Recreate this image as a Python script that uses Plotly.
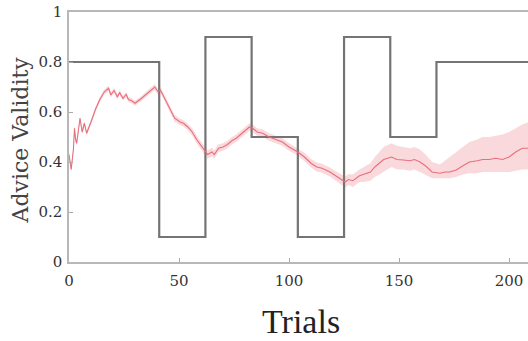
import plotly.graph_objects as go

# Advice validity schedule (step function)
step_trials = [0, 41, 41, 62, 62, 83, 83, 104, 104, 125, 125, 146, 146, 167, 167, 210]
step_values = [0.8, 0.8, 0.1, 0.1, 0.9, 0.9, 0.5, 0.5, 0.1, 0.1, 0.9, 0.9, 0.5, 0.5, 0.8, 0.8]

# Estimated advice validity (mean)
est_trials = [0, 1, 2, 2.5, 3, 3.5, 5, 6, 7, 8, 10, 12, 14, 16, 18, 19, 20.5, 22, 23, 24.5,
              26, 27, 28.5, 30, 33, 36, 39, 40.5, 41.5, 42, 44, 46, 48, 50.5, 52, 54, 56, 58,
              60, 62, 63, 65, 66, 68, 70, 72, 74, 76, 78, 80, 82, 83.5, 85.5, 88, 91, 94, 97,
              100, 104, 107, 110, 112.6, 115, 118.6, 121, 123.5, 125.5, 127, 129, 132, 134,
              137, 139, 141, 143, 146.6, 149, 152, 155, 157, 159.5, 162, 165, 168.6, 171, 173,
              176, 179, 182, 185.5, 188, 191, 194, 197, 200, 203, 206, 209]
est_mean = [0.43, 0.37, 0.45, 0.535, 0.49, 0.475, 0.575, 0.52, 0.555, 0.515, 0.56, 0.61, 0.65,
            0.68, 0.695, 0.668, 0.686, 0.66, 0.678, 0.655, 0.67, 0.65, 0.645, 0.635, 0.655,
            0.678, 0.70, 0.68, 0.688, 0.68, 0.645, 0.61, 0.575, 0.56, 0.555, 0.54, 0.52, 0.49,
            0.465, 0.44, 0.43, 0.44, 0.43, 0.455, 0.46, 0.47, 0.485, 0.495, 0.51, 0.525, 0.54,
            0.535, 0.52, 0.515, 0.50, 0.49, 0.48, 0.46, 0.44, 0.42, 0.395, 0.38, 0.375, 0.36,
            0.345, 0.33, 0.32, 0.33, 0.325, 0.345, 0.35, 0.36, 0.38, 0.395, 0.41, 0.42, 0.41,
            0.408, 0.405, 0.41, 0.40, 0.385, 0.36, 0.355, 0.36, 0.36, 0.368, 0.385, 0.40,
            0.405, 0.41, 0.41, 0.415, 0.41, 0.42, 0.44, 0.455, 0.455]
est_upper = [0.44, 0.38, 0.46, 0.545, 0.50, 0.485, 0.585, 0.53, 0.565, 0.525, 0.57, 0.62, 0.66,
             0.69, 0.705, 0.678, 0.696, 0.67, 0.688, 0.665, 0.68, 0.66, 0.655, 0.645, 0.665,
             0.688, 0.712, 0.692, 0.70, 0.692, 0.657, 0.622, 0.588, 0.573, 0.568, 0.553, 0.535,
             0.505, 0.48, 0.457, 0.447, 0.457, 0.447, 0.47, 0.475, 0.485, 0.5, 0.51, 0.525,
             0.54, 0.555, 0.55, 0.535, 0.53, 0.515, 0.505, 0.495, 0.475, 0.455, 0.437, 0.412,
             0.398, 0.393, 0.378, 0.364, 0.35, 0.342, 0.352, 0.35, 0.37, 0.38, 0.395, 0.42,
             0.44, 0.46, 0.475, 0.465, 0.46, 0.455, 0.46, 0.45, 0.43, 0.4, 0.39, 0.405, 0.42,
             0.44, 0.46, 0.48, 0.49, 0.5, 0.5, 0.505, 0.51, 0.52, 0.535, 0.55, 0.56]
est_lower = [0.42, 0.36, 0.44, 0.525, 0.48, 0.465, 0.565, 0.51, 0.545, 0.505, 0.55, 0.60, 0.64,
             0.67, 0.685, 0.658, 0.676, 0.65, 0.668, 0.645, 0.66, 0.64, 0.635, 0.625, 0.645,
             0.668, 0.688, 0.668, 0.676, 0.668, 0.633, 0.598, 0.562, 0.547, 0.542, 0.527, 0.505,
             0.475, 0.45, 0.423, 0.413, 0.423, 0.413, 0.44, 0.445, 0.455, 0.47, 0.48, 0.495,
             0.51, 0.525, 0.52, 0.505, 0.5, 0.485, 0.475, 0.465, 0.445, 0.425, 0.403, 0.378,
             0.362, 0.357, 0.342, 0.326, 0.31, 0.298, 0.308, 0.3, 0.32, 0.32, 0.325, 0.34,
             0.35, 0.36, 0.38, 0.37, 0.37, 0.365, 0.37, 0.36, 0.35, 0.335, 0.335, 0.335, 0.335,
             0.34, 0.35, 0.355, 0.355, 0.36, 0.36, 0.36, 0.36, 0.36, 0.365, 0.37, 0.37]

x_ticks = [0, 50, 100, 150, 200]
y_ticks = [0, 0.2, 0.4, 0.6, 0.8, 1]
y_tick_text = ["0", "0.2", "0.4", "0.6", "0.8", "1"]
x_title = "Trials"
y_title = "Advice Validity"

fig = go.Figure()
fig.add_trace(go.Scatter(x=est_trials, y=est_upper, mode="lines", line=dict(width=0),
                         showlegend=False, hoverinfo="skip"))
fig.add_trace(go.Scatter(x=est_trials, y=est_lower, mode="lines", line=dict(width=0),
                         fill="tonexty", fillcolor="rgba(238,130,140,0.30)",
                         showlegend=False, hoverinfo="skip"))
fig.add_trace(go.Scatter(x=step_trials, y=step_values, mode="lines",
                         line=dict(color="#747474", width=2.2), showlegend=False))
fig.add_trace(go.Scatter(x=est_trials, y=est_mean, mode="lines",
                         line=dict(color="#e86e7c", width=1.1), showlegend=False))

serif = "Liberation Serif, DejaVu Serif, serif"
wide_serif = "DejaVu Serif, Liberation Serif, serif"
fig.update_layout(
    width=528, height=341,
    margin=dict(l=69, r=0, t=12, b=79),
    plot_bgcolor="white", paper_bgcolor="white",
    font=dict(family=serif, color="#333333"),
    xaxis=dict(range=[0, 208.6], tickvals=x_ticks, ticks="inside", ticklen=4,
               tickcolor="#aaaaaa", showgrid=False, zeroline=False, automargin=False,
               showline=True, linecolor="#b8b8b8", linewidth=1.5, mirror=True,
               ticklabelstandoff=4, ticklabeloverflow="allow",
               tickfont=dict(size=15, family=wide_serif, color="#333333")),
    yaxis=dict(range=[0, 1], tickvals=y_ticks, ticktext=y_tick_text, ticks="inside",
               ticklen=4, tickcolor="#aaaaaa", showgrid=False, zeroline=False,
               automargin=False, showline=True, linecolor="#b8b8b8", linewidth=1.5,
               ticklabelstandoff=2, ticklabeloverflow="allow",
               tickfont=dict(size=15, family=wide_serif, color="#333333")),
    annotations=[
        dict(text=x_title, xref="paper", yref="paper", x=0.505, y=0, yshift=-59,
             xanchor="center", yanchor="middle", showarrow=False,
             font=dict(size=34, family=serif, color="#222222")),
        dict(text=y_title, xref="paper", yref="paper", x=0, xshift=-49, y=0.486,
             xanchor="center", yanchor="middle", textangle=-90, showarrow=False,
             font=dict(size=22, family=wide_serif, color="#444444")),
    ],
)

fig.write_html(
    "out.html",
    config={"displayModeBar": False},
    post_script="document.body.style.margin='0';document.body.style.overflow='hidden';",
)
